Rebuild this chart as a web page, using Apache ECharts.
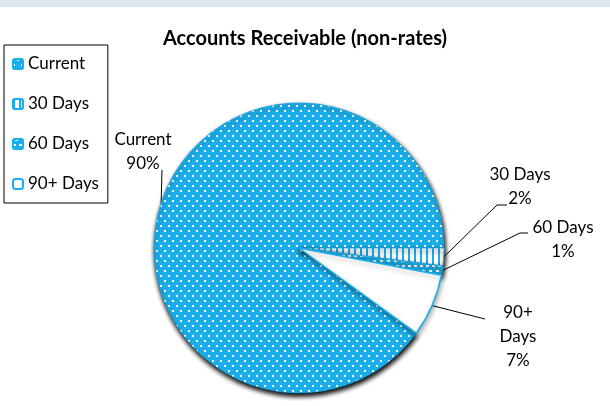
<!DOCTYPE html>
<html>
<head>
<meta charset="utf-8">
<script src="https://cdn.jsdelivr.net/npm/echarts@6/dist/echarts.min.js"></script>
<style>html,body{margin:0;padding:0;background:#fff}#c{width:610px;height:406px}</style>
</head>
<body>
<div id="c"></div>
<script>
const categories = ['Current', '30 Days', '60 Days', '90+ Days'];
const values = [90, 2, 1, 7];
const labelTexts = ['Current\n90%', '30 Days\n2%', '60 Days\n1%', '90+\nDays\n7%'];

const BLUE = '#1BAEEA';
const FONT = 'Lato';

// label placement (text centre) and leader-line elbows, in px
const labelPos = [
  {x: 143, y: 152, line: [[162, 170]]},
  {x: 520, y: 187, line: [[497, 205], [507, 205]]},
  {x: 563, y: 240, line: [[520, 233], [528, 233]]},
  {x: 518, y: 337, line: [[485, 319]]}
];

const styles = [
  {color: BLUE, borderColor: BLUE, borderWidth: 0.5,
   decal: {symbol: 'rect', symbolSize: 1, color: '#ffffff', backgroundColor: BLUE,
           dashArrayX: [[2, 6], [0, 4, 2, 2]], dashArrayY: [2, 2.5]}},
  {color: '#ffffff', borderColor: BLUE, borderWidth: 0.8,
   decal: {symbol: 'rect', symbolSize: 1, color: BLUE, backgroundColor: '#ffffff',
           dashArrayX: [2, 4], dashArrayY: [4, 0]}},
  {color: BLUE, borderColor: BLUE, borderWidth: 0.8,
   decal: {symbol: 'rect', symbolSize: 1, color: '#ffffff', backgroundColor: BLUE,
           dashArrayX: [[3, 3], [0, 1.5, 3, 1.5]], dashArrayY: [1.5, 2.5]}},
  {color: '#ffffff', borderColor: BLUE, borderWidth: 1.5, decal: null}
];

const chart = echarts.init(document.getElementById('c'), null, {renderer: 'canvas'});
chart.setOption({
  animation: false,
  aria: {enabled: false},
  graphic: [{type: 'rect', left: 0, top: 0, shape: {width: 610, height: 7}, style: {fill: '#DCE6F1'}, z: -1}],
  title: {
    text: 'Accounts Receivable (non-rates)',
    left: 'center', top: 24,
    textStyle: {fontFamily: FONT, fontSize: 20, fontWeight: 'bold', color: '#000'}
  },
  legend: {
    orient: 'vertical', left: 4, top: 45,
    data: categories,
    borderColor: '#000', borderWidth: 1, borderRadius: 0,
    padding: [9, 9, 9, 8],
    itemWidth: 10, itemHeight: 10, itemGap: 20,
    textStyle: {fontFamily: FONT, fontSize: 17, color: '#000', lineHeight: 20}
  },
  series: [{
    type: 'pie',
    center: [299, 248],
    radius: 145,
    startAngle: -36,
    clockwise: true,
    avoidLabelOverlap: false,
    itemStyle: {shadowBlur: 5, shadowOffsetX: 1, shadowOffsetY: 3, shadowColor: 'rgba(0,0,0,0.3)'},
    label: {
      show: true, position: 'outside',
      formatter: p => labelTexts[p.dataIndex],
      fontFamily: FONT, fontSize: 17, color: '#000', lineHeight: 24, align: 'center'
    },
    labelLine: {show: true, length: 10, length2: 10, lineStyle: {color: '#000', width: 1}},
    labelLayout: function (params) {
      const lp = labelPos[params.dataIndex];
      const p0 = params.labelLinePoints ? params.labelLinePoints[0] : lp.line[0];
      return {
        x: lp.x, y: lp.y, align: 'center', verticalAlign: 'middle',
        labelLinePoints: [p0].concat(lp.line)
      };
    },
    emphasis: {disabled: true},
    data: categories.map((c, i) => ({name: c, value: values[i], itemStyle: styles[i]}))
  }]
});
</script>
</body>
</html>
